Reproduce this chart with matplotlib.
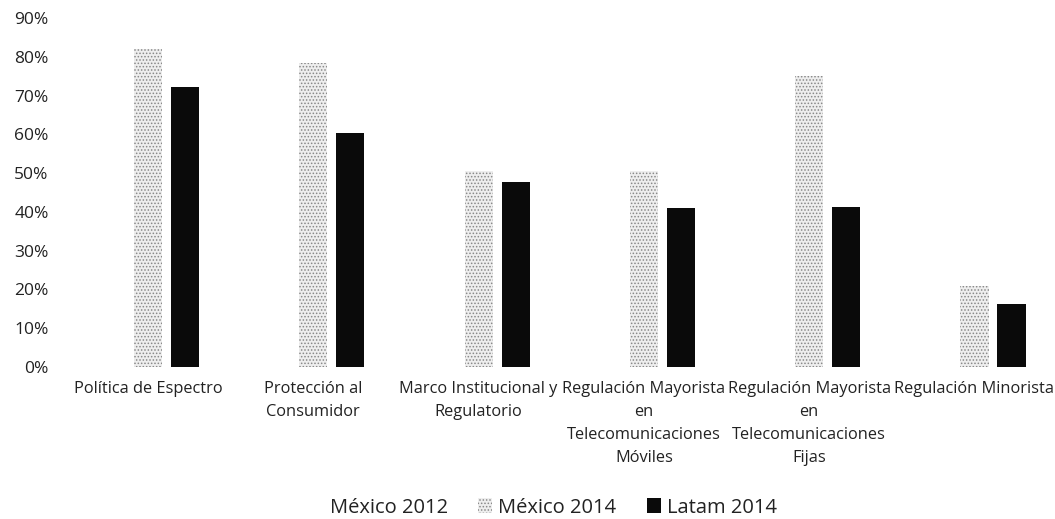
import matplotlib
matplotlib.use("Agg")
import matplotlib.pyplot as plt
import numpy as np
from matplotlib.patches import Patch

categories = ["Política de Espectro", "Protección al\nConsumidor",
              "Marco Institucional y\nRegulatorio",
              "Regulación Mayorista\nen\nTelecomunicaciones\nMóviles",
              "Regulación Mayorista\nen\nTelecomunicaciones\nFijas",
              "Regulación Minorista"]
mexico_2012 = [0.78, 0.19, 0.01, 0.0, 0.0, 0.0]
mexico_2014 = [0.82, 0.785, 0.505, 0.505, 0.752, 0.21]
latam_2014 = [0.722, 0.603, 0.477, 0.41, 0.412, 0.162]
series_names = ["México 2012", "México 2014", "Latam 2014"]
yticks = [0.0, 0.1, 0.2, 0.3, 0.4, 0.5, 0.6, 0.7, 0.8, 0.9]

plt.rcParams['font.family'] = ['Open Sans', 'DejaVu Sans']
plt.rcParams['hatch.linewidth'] = 0.7

fig = plt.figure(figsize=(10.55, 5.19), dpi=100)
ax = fig.add_axes([0.062, 0.293, 0.94, 0.672])

x = np.arange(len(categories))
w = 0.17
off = 0.224
ax.bar(x - off, mexico_2012, w, color="white", edgecolor="none")
ax.bar(x, mexico_2014, w, facecolor="#eeeeee", edgecolor="#888888",
       hatch=".....", linewidth=0)
ax.bar(x + off, latam_2014, w, color="#0a0a0a", edgecolor="none")

ax.set_xlim(-0.5, len(categories) - 0.5)
ax.set_ylim(0, 0.9)
ax.set_yticks(yticks)
ax.set_yticklabels([f"{int(round(t*100))}%" for t in yticks], fontsize=12.5, color="#222222")
ax.set_xticks(x)
ax.set_xticklabels(categories, fontsize=11.8, color="#222222", linespacing=1.6, va="top")
ax.tick_params(axis="both", length=0)
ax.tick_params(axis="x", pad=10)
ax.tick_params(axis="y", pad=12)
for s in ax.spines.values():
    s.set_visible(False)

handles = [Patch(facecolor="white", edgecolor="none"),
           Patch(facecolor="#eeeeee", edgecolor="#888888", hatch=".....", linewidth=0),
           Patch(facecolor="#0a0a0a", edgecolor="none")]
fig.legend(handles, series_names, loc="center", bbox_to_anchor=(0.515, 0.022),
           ncol=3, frameon=False, fontsize=14.5, handlelength=0.7, handleheight=0.7,
           handletextpad=0.3, columnspacing=1.5, labelcolor="#222222")

fig.savefig("out.png", dpi=100, facecolor="white")
